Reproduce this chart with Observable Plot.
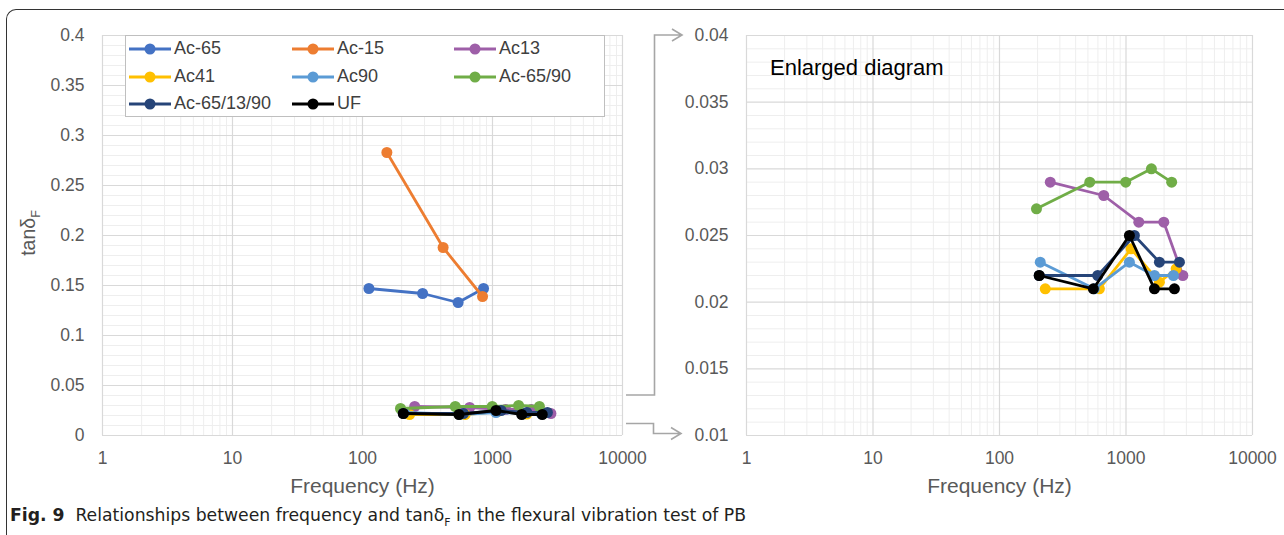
<!DOCTYPE html>
<html><head><meta charset="utf-8">
<script src="https://cdn.jsdelivr.net/npm/d3@7"></script>
<script src="https://cdn.jsdelivr.net/npm/@observablehq/plot@0.6"></script>
<style>
body{margin:0;background:#fff;}
#wrap{position:relative;width:1284px;height:535px;overflow:hidden;font-family:"Liberation Sans",Arial,sans-serif;background:#fff;}
#frame{position:absolute;left:6px;top:9px;width:1400px;height:600px;border-top:1.5px solid #333;border-left:1.5px solid #333;border-top-left-radius:10px;}
.panel{position:absolute;top:0;}
#legend{position:absolute;left:125px;top:35px;width:478px;height:80px;border:1px solid #bfbfbf;background:#fff;}
.li{position:absolute;font-size:18px;color:#404040;height:20px;line-height:20px;white-space:nowrap;}
.li svg{vertical-align:middle;margin-right:3px;}
#enl{position:absolute;left:770px;top:55px;font-size:22px;color:#000;}
#cap{position:absolute;left:10px;top:505px;font-size:17.5px;color:#231f20;white-space:nowrap;transform-origin:0 0;font-family:"DejaVu Sans Condensed","DejaVu Sans",sans-serif;font-stretch:condensed;}
#cap b{font-weight:bold;}
</style></head><body><div id="wrap"><div id="frame"></div></div>
<script>
// ---------------- data ----------------
const seriesNames  = ["Ac-65","Ac-15","Ac13","Ac41","Ac90","Ac-65/90","Ac-65/13/90","UF"];
const seriesColors = ["#4472C4","#ED7D31","#9E5FA8","#FFC000","#5B9BD5","#70AD47","#264478","#000000"];

const freqAc65 = [112, 290, 544, 853];
const tanAc65  = [0.147, 0.142, 0.133, 0.147];
const freqAc15 = [154, 417, 838];
const tanAc15  = [0.283, 0.188, 0.139];
const freqAc13 = [252, 667, 1262, 1990, 2814];
const tanAc13  = [0.029, 0.028, 0.026, 0.026, 0.022];
const freqAc41 = [230, 616, 1097, 1837, 2490];
const tanAc41  = [0.021, 0.021, 0.024, 0.0215, 0.0225];
const freqAc90 = [210, 562, 1064, 1678, 2371];
const tanAc90  = [0.023, 0.021, 0.023, 0.022, 0.022];
const freqAc6590 = [196, 517, 995, 1588, 2296];
const tanAc6590  = [0.027, 0.029, 0.029, 0.030, 0.029];
const freqAc651390 = [206, 598, 1165, 1837, 2645];
const tanAc651390  = [0.022, 0.022, 0.025, 0.023, 0.023];
const freqUF = [206, 552, 1064, 1678, 2414];
const tanUF  = [0.022, 0.021, 0.025, 0.021, 0.021];

const xTicks = [1, 10, 100, 1000, 10000];
const yTicksLeft  = [0, 0.05, 0.1, 0.15, 0.2, 0.25, 0.3, 0.35, 0.4];
const yTicksRight = [0.01, 0.015, 0.02, 0.025, 0.03, 0.035, 0.04];
const xLabel = "Frequency (Hz)";
const enlargedText = "Enlarged diagram";

// ---------------- build table ----------------
const seriesFreq = [freqAc65, freqAc15, freqAc13, freqAc41, freqAc90, freqAc6590, freqAc651390, freqUF];
const seriesTan  = [tanAc65, tanAc15, tanAc13, tanAc41, tanAc90, tanAc6590, tanAc651390, tanUF];
const rows = [];
seriesNames.forEach((s, i) => seriesFreq[i].forEach((f, j) => rows.push({series: s, f, v: seriesTan[i][j]})));

// grid helpers
const xMinor = [];
for (const d of [1, 10, 100, 1000]) for (let k = 2; k <= 9; k++) xMinor.push(d * k);
function minorY(lo, hi, step, majorStep) {
  const out = [];
  const n = Math.round((hi - lo) / step);
  for (let i = 0; i <= n; i++) {
    const v = +(lo + i * step).toFixed(6);
    if (Math.abs(v / majorStep - Math.round(v / majorStep)) > 1e-6) out.push(v);
  }
  return out;
}

const fmtY = d => String(+d.toFixed(3));
const axisStyle = {fontFamily: '"Liberation Sans", Arial, sans-serif', fontSize: "17.5px", color: "#595959", overflow: "visible", background: "transparent"};

function makePanel({width, marginLeft, marginRight, yDomain, yTicks, minorStep, majorStep, clip}) {
  const marks = [
    Plot.ruleX(xMinor, {stroke: "#eeeeee", strokeWidth: 1}),
    Plot.ruleY(minorY(yDomain[0], yDomain[1], minorStep, majorStep), {stroke: "#eeeeee", strokeWidth: 1}),
    Plot.ruleX(xTicks, {stroke: "#d9d9d9", strokeWidth: 1.2}),
    Plot.ruleY(yTicks, {stroke: "#d9d9d9", strokeWidth: 1.2}),
    Plot.axisX({ticks: xTicks, tickSize: 0, tickPadding: 16, tickFormat: d => String(d), fill: "#595959", label: null}),
    Plot.axisY({ticks: yTicks, tickSize: 0, tickPadding: 18, tickFormat: fmtY, fill: "#595959", label: null}),
    Plot.text([xLabel], {frameAnchor: "bottom", dy: 51, lineAnchor: "middle", fontSize: 21, fill: "#595959"})
  ];
  for (const s of seriesNames) {
    const d = rows.filter(r => r.series === s);
    marks.push(Plot.line(d, {x: "f", y: "v", stroke: "series", strokeWidth: 2.8, clip}));
    marks.push(Plot.dot(d, {x: "f", y: "v", fill: "series", r: 5.5, clip}));
  }
  return Plot.plot({
    width, height: 500, marginLeft, marginRight, marginTop: 35, marginBottom: 65,
    style: axisStyle,
    x: {type: "log", domain: [1, 10000], label: null},
    y: {domain: yDomain, label: null},
    color: {domain: seriesNames, range: seriesColors},
    marks
  });
}

const wrap = document.getElementById("wrap");

const left = makePanel({width: 640, marginLeft: 102, marginRight: 18, yDomain: [0, 0.4], yTicks: yTicksLeft, minorStep: 0.01, majorStep: 0.05, clip: false});
left.classList.add("panel"); left.style.left = "0px";
wrap.appendChild(left);

const right = makePanel({width: 624, marginLeft: 86, marginRight: 32, yDomain: [0.01, 0.04], yTicks: yTicksRight, minorStep: 0.001, majorStep: 0.005, clip: true});
right.classList.add("panel"); right.style.left = "660px";
wrap.appendChild(right);

// y-axis title with subscript
const yl = d3.select(left).append("text")
  .attr("transform", "translate(35,233) rotate(-90)")
  .attr("text-anchor", "middle")
  .attr("fill", "#595959")
  .attr("font-size", 19.5);
yl.append("tspan").text("tanδ");
yl.append("tspan").attr("font-size", 12.5).attr("dy", 5).text("F");

// legend
const legend = document.createElement("div");
legend.id = "legend";
wrap.appendChild(legend);
const colX = [3, 166, 328];
const rowY = [2, 30, 57];
seriesNames.forEach((s, i) => {
  const it = document.createElement("div");
  it.className = "li";
  it.style.left = colX[i % 3] + "px";
  it.style.top = rowY[Math.floor(i / 3)] + "px";
  it.innerHTML = `<svg width="42" height="14"><line x1="0" x2="42" y1="7" y2="7" stroke="${seriesColors[i]}" stroke-width="2.8"/><circle cx="21" cy="7" r="5.5" fill="${seriesColors[i]}"/></svg>${s}`;
  legend.appendChild(it);
});

// enlarged label
const enl = document.createElement("div");
enl.id = "enl"; enl.textContent = enlargedText;
wrap.appendChild(enl);

// connector arrows
const ov = d3.select(wrap).append("svg")
  .attr("width", 1284).attr("height", 535)
  .style("position", "absolute").style("left", 0).style("top", 0).style("pointer-events", "none");
ov.append("path").attr("d", "M626,395 H654.5 V35 H682 M672,29 L682,35 L672,41")
  .attr("fill", "none").attr("stroke", "#a6a6a6").attr("stroke-width", 1.6);
ov.append("path").attr("d", "M626,423.5 H653.5 V433.5 H681 M671,427.5 L681,433.5 L671,439.5")
  .attr("fill", "none").attr("stroke", "#a6a6a6").attr("stroke-width", 1.6);

// caption
const cap = document.createElement("div");
cap.id = "cap";
cap.innerHTML = '<b>Fig. 9</b>&nbsp; Relationships between frequency and tanδ<sub style="font-size:11px">F</sub> in the flexural vibration test of PB';
wrap.appendChild(cap);
const w = cap.getBoundingClientRect().width;
cap.style.transform = `scaleX(${736 / w})`;
</script>
</body></html>
